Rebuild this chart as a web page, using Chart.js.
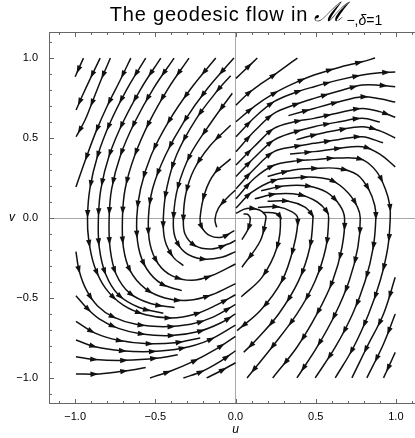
<!DOCTYPE html>
<html>
<head>
<meta charset="utf-8">
<script src="https://cdn.jsdelivr.net/npm/chart.js@4.4.1/dist/chart.umd.min.js"></script>
<style>
  html, body { margin: 0; padding: 0; background: #fff; overflow: hidden; }
  #wrap { width: 415px; height: 438px; overflow: hidden; }
  canvas { display: block; }
</style>
</head>
<body>
<div id="wrap"><canvas id="flow" width="430" height="438" style="width:430px;height:438px"></canvas></div>
<script>
// tick labels
const uTicks = [-1, -0.5, 0, 0.5, 1];
const vTicks = [-1, -0.5, 0, 0.5, 1];

// streamlines, [u, v] in flow order
const rightArcs = [
  [[0.05,0.025],[0.08,0.02],[0.092,-0.01],[0.078,-0.07],[0.04,-0.135]],
  [[0.003,0.03],[0.07,0.06],[0.15,0.05],[0.185,0.02],[0.19,0],[0.155,-0.142],[0.04,-0.308]],
  [[0.17,0.035],[0.25,0.03],[0.28,0],[0.259,-0.183],[0.165,-0.371],[0.036,-0.492]],
  [[0.14,0.065],[0.26,0.07],[0.35,0.04],[0.388,0],[0.362,-0.183],[0.29,-0.392],[0.155,-0.579],[0.01,-0.704]],
  [[0.2,0.105],[0.33,0.105],[0.43,0.07],[0.475,0.025],[0.483,0],[0.464,-0.183],[0.394,-0.392],[0.269,-0.6],[0.124,-0.767],[0.051,-0.84]],
  [[0.12,0.12],[0.25,0.15],[0.4,0.145],[0.51,0.1],[0.57,0.04],[0.581,0],[0.564,-0.183],[0.497,-0.392],[0.383,-0.6],[0.227,-0.808],[0.072,-1.0]],
  [[0.16,0.17],[0.3,0.2],[0.45,0.2],[0.57,0.16],[0.65,0.08],[0.68,0],[0.664,-0.183],[0.606,-0.392],[0.508,-0.6],[0.383,-0.808],[0.232,-1.0]],
  [[0.003,0.0625],[0.1,0.16],[0.24,0.235],[0.36,0.25],[0.49,0.255],[0.6,0.235],[0.7,0.16],[0.76,0.07],[0.778,0],[0.763,-0.183],[0.709,-0.392],[0.622,-0.6],[0.508,-0.808],[0.383,-1.0]],
  [[0.2,0.26],[0.36,0.3],[0.49,0.31],[0.64,0.31],[0.76,0.27],[0.83,0.18],[0.868,0.08],[0.875,0],[0.859,-0.183],[0.809,-0.392],[0.73,-0.6],[0.622,-0.808],[0.497,-1.0]],
  [[0.003,0.12],[0.12,0.25],[0.24,0.33],[0.36,0.355],[0.49,0.365],[0.64,0.375],[0.79,0.365],[0.88,0.29],[0.935,0.18],[0.962,0.08],[0.965,0],[0.95,-0.183],[0.902,-0.392],[0.83,-0.6],[0.736,-0.808],[0.622,-1.0]]
];
const rightUpper = [
  [[0.003,0.873],[0.07,0.937],[0.136,1.0]],
  [[0.003,0.706],[0.08,0.78],[0.16,0.84],[0.24,0.894],[0.31,0.945],[0.386,1.0]],
  [[0.003,0.602],[0.12,0.7],[0.24,0.779],[0.36,0.84],[0.49,0.894],[0.64,0.94],[0.79,0.977],[0.87,1.0]],
  [[0.003,0.508],[0.12,0.63],[0.24,0.727],[0.36,0.78],[0.49,0.821],[0.64,0.862],[0.79,0.894],[0.9,0.908],[0.996,0.9125]],
  [[0.003,0.415],[0.12,0.545],[0.24,0.654],[0.36,0.705],[0.49,0.748],[0.64,0.792],[0.79,0.831],[0.9,0.83],[0.996,0.82]],
  [[0.33,0.64],[0.49,0.685],[0.64,0.725],[0.79,0.758],[0.9,0.745],[0.996,0.725]],
  [[0.003,0.331],[0.12,0.45],[0.24,0.56],[0.36,0.6],[0.49,0.623],[0.64,0.657],[0.79,0.685],[0.9,0.665],[0.996,0.63]],
  [[0.003,0.26],[0.12,0.38],[0.24,0.487],[0.36,0.535],[0.49,0.571],[0.64,0.6],[0.79,0.623],[0.9,0.6]],
  [[0.38,0.49],[0.49,0.519],[0.64,0.55],[0.79,0.571],[0.9,0.545],[0.996,0.5]],
  [[0.003,0.183],[0.12,0.31],[0.24,0.415],[0.36,0.445],[0.49,0.467],[0.64,0.49],[0.79,0.508],[0.92,0.47]],
  [[0.34,0.4],[0.49,0.415],[0.64,0.435],[0.79,0.446],[0.9,0.4],[0.996,0.32]]
];
const rightLower = [
  [[0.996,-0.371],[0.923,-0.6],[0.819,-0.808],[0.726,-1.0]],
  [[0.996,-0.6],[0.923,-0.7875],[0.819,-1.0]],
  [[0.996,-0.84],[0.96,-0.92],[0.923,-1.0]]
];
const leftArcs = [
  [[-0.56,1.0],[-0.676,0.808],[-0.78,0.6],[-0.859,0.392],[-0.908,0.183],[-0.923,0],[-0.915,-0.14],[-0.88,-0.3],[-0.81,-0.44],[-0.7,-0.545],[-0.56,-0.605],[-0.4,-0.625],[-0.25,-0.6],[-0.12,-0.545],[0,-0.48]],
  [[-0.466,1.0],[-0.59,0.808],[-0.701,0.6],[-0.787,0.392],[-0.839,0.183],[-0.855,0],[-0.85,-0.18],[-0.81,-0.35],[-0.73,-0.48],[-0.6,-0.56],[-0.45,-0.595]],
  [[-0.383,1.0],[-0.513,0.808],[-0.628,0.6],[-0.717,0.392],[-0.772,0.183],[-0.788,0],[-0.782,-0.19],[-0.745,-0.35],[-0.66,-0.47],[-0.53,-0.535],[-0.38,-0.56]],
  [[-0.29,1.0],[-0.421,0.808],[-0.538,0.6],[-0.628,0.392],[-0.688,0.183],[-0.705,0],[-0.699,-0.183],[-0.657,-0.329],[-0.564,-0.44],[-0.44,-0.5],[-0.294,-0.515],[-0.148,-0.48],[0,-0.41]],
  [[-0.123,1.0],[-0.279,0.808],[-0.419,0.6],[-0.526,0.392],[-0.592,0.183],[-0.616,0],[-0.605,-0.183],[-0.553,-0.319],[-0.46,-0.4125],[-0.335,-0.454]],
  [[-0.01,1.0],[-0.176,0.808],[-0.323,0.6],[-0.437,0.392],[-0.517,0.183],[-0.543,0],[-0.533,-0.163],[-0.481,-0.2875],[-0.398,-0.36],[-0.273,-0.39],[-0.148,-0.36],[0,-0.2875]],
  [[-0.03,0.89],[-0.11,0.8],[-0.245,0.62],[-0.365,0.4],[-0.428,0.19],[-0.45,0],[-0.44,-0.14],[-0.387,-0.246],[-0.325,-0.298]],
  [[-0.02,0.78],[-0.15,0.6],[-0.28,0.4],[-0.36,0.19],[-0.387,0],[-0.377,-0.12],[-0.315,-0.215],[-0.21,-0.256],[-0.086,-0.246],[0,-0.21]],
  [[-0.03,0.58],[-0.16,0.45],[-0.26,0.3],[-0.31,0.15],[-0.325,0],[-0.315,-0.1],[-0.252,-0.173],[-0.148,-0.194],[-0.045,-0.163],[0,-0.14]],
  [[-0.03,0.37],[-0.13,0.28],[-0.19,0.16],[-0.221,0],[-0.21,-0.058],[-0.159,-0.11],[-0.086,-0.12],[-0.007,-0.079]],
  [[0.0,0.175],[-0.045,0.133],[-0.107,0.06],[-0.128,-0.01],[-0.117,-0.058]]
];
const leftUpper = [
  [[-0.948,1.0],[-0.975,0.94],[-1.0,0.883]],
  [[-0.844,1.0],[-0.91,0.8625],[-0.958,0.758],[-0.994,0.675]],
  [[-0.78,1.0],[-0.84,0.86],[-0.896,0.717],[-0.938,0.6125],[-0.994,0.508]],
  [[-0.653,1.0],[-0.72,0.86],[-0.8,0.7],[-0.87,0.54],[-0.93,0.38],[-0.995,0.194]]
];
const leftLower = [
  [[-0.995,-0.21],[-0.975,-0.33],[-0.93,-0.45],[-0.86,-0.55],[-0.76,-0.62],[-0.62,-0.665],[-0.45,-0.68],[-0.28,-0.665],[-0.14,-0.62],[0,-0.54]],
  [[-0.995,-0.486],[-0.93,-0.56],[-0.85,-0.63],[-0.73,-0.69],[-0.585,-0.725],[-0.4,-0.735],[-0.23,-0.71],[-0.09,-0.655],[0,-0.6]],
  [[-0.995,-0.646],[-0.875,-0.72],[-0.73,-0.765],[-0.564,-0.785],[-0.377,-0.78],[-0.22,-0.75]],
  [[-0.995,-0.7625],[-0.875,-0.805],[-0.709,-0.83],[-0.522,-0.835],[-0.335,-0.815],[-0.169,-0.765],[0,-0.67]],
  [[-0.995,-0.867],[-0.875,-0.885],[-0.688,-0.89],[-0.48,-0.875],[-0.36,-0.855]],
  [[-0.995,-0.975],[-0.85,-0.975],[-0.68,-0.955],[-0.56,-0.935]],
  [[-0.533,-1.0],[-0.4,-0.955],[-0.27,-0.9],[-0.13,-0.825],[0,-0.74]],
  [[-0.325,-1.0],[-0.21,-0.96],[-0.1,-0.9],[0,-0.83]],
  [[-0.18,-1.0],[-0.09,-0.955],[0,-0.905]]
];

const allLines = [].concat(rightArcs, rightUpper, rightLower, leftArcs, leftUpper, leftLower);

const datasets = allLines.map(line => ({
  data: line.map(p => ({ x: p[0], y: p[1] })),
  showLine: true,
  borderColor: '#111',
  borderWidth: 1.5,
  pointRadius: 0,
  tension: 0.35,
  fill: false
}));

const fmt = v => v.toFixed(1).replace('-', '\u2212');

// arrowheads every ~30px along each drawn curve
const arrowPlugin = {
  id: 'arrows',
  afterDatasetsDraw(chart) {
    const ctx = chart.ctx;
    ctx.save();
    ctx.fillStyle = '#111';
    chart.data.datasets.forEach((ds, i) => {
      const pts = chart.getDatasetMeta(i).data;
      if (pts.length < 2) return;
      const samples = [];
      for (let k = 0; k < pts.length - 1; k++) {
        const a = pts[k], b = pts[k + 1];
        const c1x = a.cp2x ?? a.x, c1y = a.cp2y ?? a.y;
        const c2x = b.cp1x ?? b.x, c2y = b.cp1y ?? b.y;
        for (let s = (k === 0 ? 0 : 1); s <= 12; s++) {
          const t = s / 12, m = 1 - t;
          samples.push({
            x: m*m*m*a.x + 3*m*m*t*c1x + 3*m*t*t*c2x + t*t*t*b.x,
            y: m*m*m*a.y + 3*m*m*t*c1y + 3*m*t*t*c2y + t*t*t*b.y
          });
        }
      }
      let total = 0;
      const cum = [0];
      for (let k = 1; k < samples.length; k++) {
        total += Math.hypot(samples[k].x - samples[k-1].x, samples[k].y - samples[k-1].y);
        cum.push(total);
      }
      const gap = 30;
      const marks = [];
      if (total < gap) marks.push(total * 0.6);
      else for (let s = 18; s < total - 4; s += gap) marks.push(s);
      marks.forEach(s => {
        let k = 1;
        while (k < cum.length - 1 && cum[k] < s) k++;
        const p0 = samples[k-1], p1 = samples[k];
        const f = (s - cum[k-1]) / Math.max(cum[k] - cum[k-1], 1e-6);
        const x = p0.x + (p1.x - p0.x) * f, y = p0.y + (p1.y - p0.y) * f;
        const len = Math.hypot(p1.x - p0.x, p1.y - p0.y) || 1;
        const dx = (p1.x - p0.x) / len, dy = (p1.y - p0.y) / len;
        ctx.beginPath();
        ctx.moveTo(x + dx * 4.5, y + dy * 4.5);
        ctx.lineTo(x - dx * 3.5 - dy * 2.7, y - dy * 3.5 + dx * 2.7);
        ctx.lineTo(x - dx * 3.5 + dy * 2.7, y - dy * 3.5 - dx * 2.7);
        ctx.closePath();
        ctx.fill();
      });
    });
    ctx.restore();
  }
};

// frame with inward ticks, axis labels and title
const framePlugin = {
  id: 'frame',
  afterDraw(chart) {
    const ctx = chart.ctx, a = chart.chartArea;
    const xs = chart.scales.x, ys = chart.scales.y;
    ctx.save();
    ctx.strokeStyle = '#666';
    ctx.lineWidth = 1;
    ctx.strokeRect(a.left + 0.5, a.top + 0.5, a.right - a.left - 1, a.bottom - a.top - 1);
    for (let i = -11; i <= 11; i++) {
      const val = i / 10;
      const major = i % 5 === 0;
      const len = major ? 5 : 3;
      const px = Math.round(xs.getPixelForValue(val)) + 0.5;
      const py = Math.round(ys.getPixelForValue(val)) + 0.5;
      ctx.beginPath();
      ctx.moveTo(px, a.bottom); ctx.lineTo(px, a.bottom - len);
      ctx.moveTo(px, a.top); ctx.lineTo(px, a.top + len);
      ctx.moveTo(a.left, py); ctx.lineTo(a.left + len, py);
      ctx.moveTo(a.right, py); ctx.lineTo(a.right - len, py);
      ctx.stroke();
    }
    ctx.fillStyle = '#000';
    ctx.font = 'italic 12px "Liberation Sans"';
    ctx.textAlign = 'center';
    ctx.textBaseline = 'middle';
    ctx.fillText('u', xs.getPixelForValue(0), 430);
    ctx.fillText('v', 12, ys.getPixelForValue(0));

    // title with script M and subscript
    const main = 'The geodesic flow in ';
    const fMain = '20px "Liberation Sans"';
    const fM = 'italic 27px "DejaVu Serif"';
    const fSub = '14px "Liberation Sans"';
    ctx.textAlign = 'left';
    ctx.textBaseline = 'alphabetic';
    ctx.letterSpacing = '0.8px';
    ctx.font = fMain; const w1 = ctx.measureText(main).width;
    ctx.letterSpacing = '0px';
    ctx.font = fM; const w2 = ctx.measureText('\u2133').width;
    ctx.font = fSub; const w3 = ctx.measureText('\u2212,\u03b4=1').width;
    let x = 246 - (w1 + w2 + 1 + w3) / 2;
    const base = 21;
    ctx.letterSpacing = '0.8px';
    ctx.font = fMain; ctx.fillText(main, x, base); x += w1;
    ctx.letterSpacing = '0px';
    ctx.font = fM; ctx.fillText('\u2133', x, base); x += w2 + 1;
    ctx.font = fSub; ctx.fillText('\u2212,', x, base + 4);
    const wc = ctx.measureText('\u2212,').width;
    ctx.font = 'italic 14px "Liberation Sans"'; ctx.fillText('\u03b4', x + wc, base + 4);
    const wd = ctx.measureText('\u03b4').width;
    ctx.font = fSub; ctx.fillText('=1', x + wc + wd, base + 4);
    ctx.restore();
  }
};

const zeroLine = c => (c.tick && c.tick.value === 0 ? '#a8a8a8' : 'rgba(0,0,0,0)');

new Chart(document.getElementById('flow'), {
  type: 'scatter',
  data: { datasets },
  options: {
    responsive: false,
    animation: false,
    layout: { padding: { top: 32, right: 8, left: 0, bottom: 0 } },
    plugins: { legend: { display: false }, tooltip: { enabled: false }, title: { display: false } },
    scales: {
      x: {
        type: 'linear', min: -1.163, max: 1.163,
        afterBuildTicks: s => { s.ticks = uTicks.map(v => ({ value: v })); },
        afterFit: s => { s.height = 34; },
        grid: { drawTicks: false, color: zeroLine, lineWidth: 1 },
        border: { display: false },
        ticks: { padding: 6, color: '#000', font: { family: 'Liberation Sans', size: 11 }, autoSkip: false, maxRotation: 0, callback: v => fmt(v) }
      },
      y: {
        type: 'linear', min: -1.163, max: 1.163,
        afterBuildTicks: s => { s.ticks = vTicks.map(v => ({ value: v })); },
        afterFit: s => { s.width = 49; },
        grid: { drawTicks: false, color: zeroLine, lineWidth: 1 },
        border: { display: false },
        ticks: { padding: 11, color: '#000', font: { family: 'Liberation Sans', size: 11 }, autoSkip: false, callback: v => fmt(v) }
      }
    }
  },
  plugins: [arrowPlugin, framePlugin]
});
</script>
</body>
</html>
